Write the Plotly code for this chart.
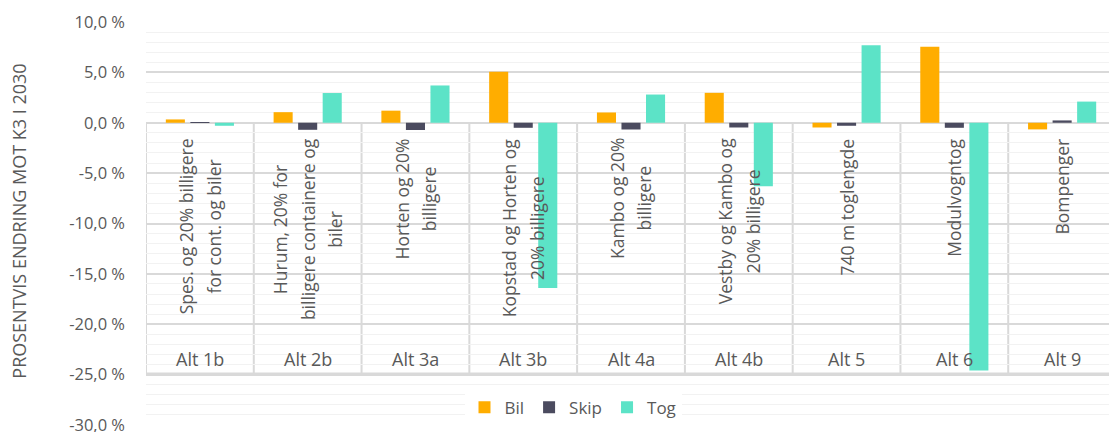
import plotly.graph_objects as go

# ---- data ----
alt_labels = ["Alt 1b", "Alt 2b", "Alt 3a", "Alt 3b", "Alt 4a", "Alt 4b", "Alt 5", "Alt 6", "Alt 9"]
descriptions = [
    "Spes. og 20% billigere<br>for cont. og biler",
    "Hurum, 20% for<br>billigere containere og<br>biler",
    "Horten og 20%<br>billigere",
    "Kopstad og Horten og<br>20% billigere",
    "Kambo og 20%<br>billigere",
    "Vestby og Kambo og<br>20% billigere",
    "740 m toglengde",
    "Modulvogntog",
    "Bompenger",
]
bil = [0.33, 1.05, 1.2, 5.05, 1.02, 2.97, -0.47, 7.55, -0.66]
skip = [-0.02, -0.7, -0.72, -0.5, -0.67, -0.47, -0.3, -0.5, 0.23]
tog = [-0.3, 2.95, 3.7, -16.4, 2.8, -6.3, 7.7, -24.6, 2.1]

y_tickvals = [10, 5, 0, -5, -10, -15, -20, -25, -30]
y_ticktext = ["10,0 %", "5,0 %", "0,0 %", "-5,0 %", "-10,0 %", "-15,0 %", "-20,0 %", "-25,0 %", "-30,0 %"]
y_title = "PROSENTVIS ENDRING MOT K3 I 2030"

# ---- style ----
FONT = "Open Sans"
TXT = "#595959"
C_BIL = "#FFAD00"
C_SKIP = "#4B4B5F"
C_TOG = "#5CE3C7"
BOX_BOTTOM = -24.9
DESC_TOP = -1.36
ALT_Y = -23.4
W, H = 1109, 432
ML, MT, MB = 146, 22, 7
PLOT_W = W - ML
PLOT_H = H - MT - MB

fig = go.Figure()
for name, vals, col in [("Bil", bil, C_BIL), ("Skip", skip, C_SKIP), ("Tog", tog, C_TOG)]:
    fig.add_trace(go.Bar(x=alt_labels, y=vals, name=name, marker=dict(color=col, line=dict(width=0))))

n = len(alt_labels)
shapes = []
for i in range(n + 1):
    shapes.append(dict(type="line", xref="x", yref="y", x0=i - 0.5, x1=i - 0.5, y0=0, y1=BOX_BOTTOM,
                       line=dict(color="#D9D9D9", width=2), layer="below"))
shapes.append(dict(type="line", xref="x", yref="y", x0=-0.5, x1=n - 0.5, y0=BOX_BOTTOM, y1=BOX_BOTTOM,
                   line=dict(color="#D9D9D9", width=2), layer="below"))

annotations = []
for lab, desc in zip(alt_labels, descriptions):
    annotations.append(dict(x=lab, y=ALT_Y, xref="x", yref="y", text=lab, showarrow=False,
                            font=dict(family=FONT, size=18, color=TXT)))
    lines = desc.split("<br>")
    txt = "<br>".join('<span style="font-size:17.5px">%s</span>' % l for l in lines)
    annotations.append(dict(x=lab, y=DESC_TOP, xref="x", yref="y", text=txt, showarrow=False,
                            textangle=-90, yanchor="top", xanchor="center",
                            font=dict(family=FONT, size=21, color=TXT)))
annotations.append(dict(x=(19 - ML) / PLOT_W, y=(425.3 - 222) / PLOT_H, xref="paper", yref="paper",
                        text=y_title, showarrow=False, textangle=-90, xanchor="center", yanchor="middle",
                        font=dict(family=FONT, size=18, color=TXT)))

fig.update_layout(
    width=W, height=H,
    margin=dict(l=ML, r=0, t=MT, b=MB, autoexpand=False),
    paper_bgcolor="white", plot_bgcolor="white",
    barmode="group", bargap=0.317, bargroupgap=0.223,
    font=dict(family=FONT, size=16, color=TXT),
    showlegend=True,
    legend=dict(orientation="h", x=(573 - ML) / PLOT_W, y=(425.3 - 408) / PLOT_H,
                xanchor="center", yanchor="middle",
                bgcolor="white", font=dict(family=FONT, size=17, color=TXT),
                itemwidth=30, tracegroupgap=0),
    shapes=shapes,
    annotations=annotations,
)
fig.update_xaxes(range=[-0.5, n - 0.5 - 7 / 107.6], showticklabels=False, showgrid=False,
                 zeroline=False, showline=False, ticks="", automargin=False)
fig.update_yaxes(range=[-30, 10], tickvals=y_tickvals, ticktext=y_ticktext,
                 showgrid=True, gridcolor="#D9D9D9", gridwidth=1.5,
                 minor=dict(dtick=1, showgrid=True, gridcolor="#F2F2F2", gridwidth=1),
                 zeroline=True, zerolinecolor="#D9D9D9", zerolinewidth=2,
                 showline=False, ticks="", ticklabelstandoff=20, automargin=False,
                 ticklabeloverflow="allow",
                 tickfont=dict(family=FONT, size=16.5, color=TXT))

fig.write_html("out.html", config={"displayModeBar": False},
               post_script="document.body.style.margin='0px';document.body.style.overflow='hidden';")
